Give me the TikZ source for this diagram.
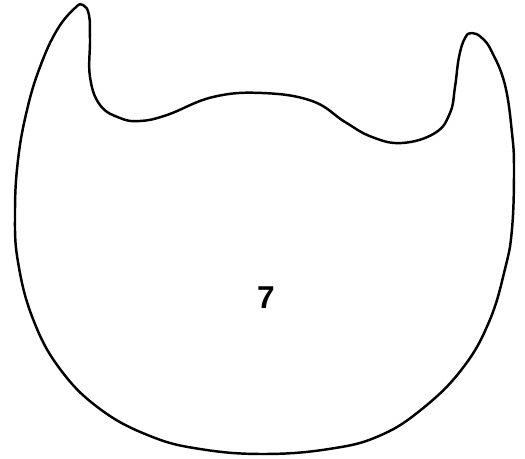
\documentclass[tikz,border=0pt]{standalone}
\usepackage{fontspec}
\setmainfont{Liberation Sans}
\begin{document}
\begin{tikzpicture}[x=0.02cm, y=-0.02cm]
                % Frame
                \useasboundingbox (0,0) rectangle (525,459);
                % Outline
                \draw [line width=1.4pt, line join=round, tension=0.7] plot [smooth cycle] coordinates {
                    (83,5) (89,15) (90,40) (90,77) (100,105) (120,118) (140,121) (167,115)
                    (213,97) (262,93) (312,101) (345,122) (372,137) (402,143) (435,133)
                    (450,113) (455,87) (459,57) (465,38) (472,33) (482,38) (492,52) (505,85)
                    (512,133) (514,170) (512,229) (505,269) (489,322) (462,369) (422,409)
                    (379,436) (329,449) (263,454) (200,449) (150,436) (100,409) (60,369)
                    (33,319) (18,262) (15,213) (18,160) (27,110) (40,67) (57,30) (75,8)};
                % Label
                \node (seven) at (266,298) {\fontsize{18}{20}\selectfont\bfseries 7};
            \end{tikzpicture}
\end{document}
